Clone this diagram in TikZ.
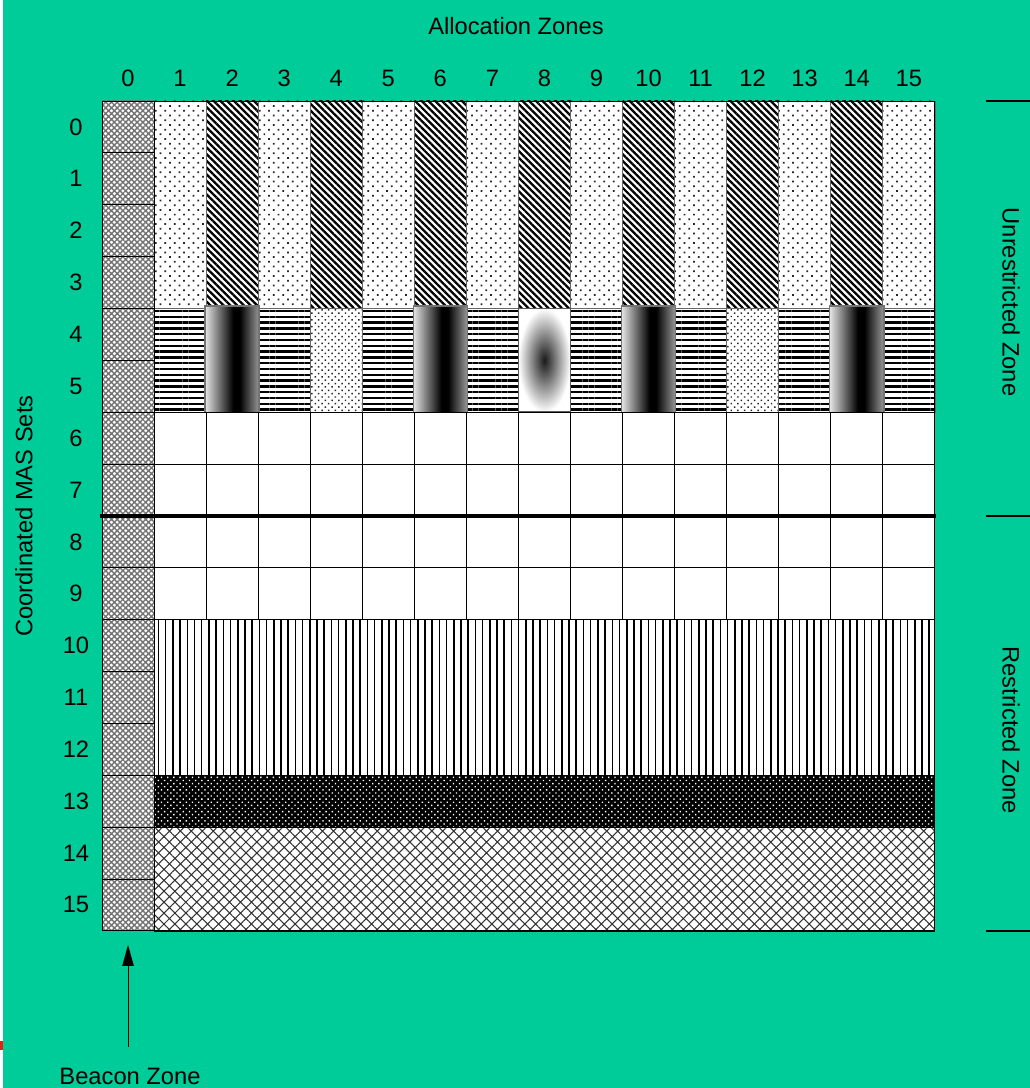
\documentclass[tikz,border=0pt]{standalone}
\usepackage{fontspec}
\setmainfont{Liberation Sans}
\usepackage{xcolor}
\usetikzlibrary{arrows.meta, patterns.meta}
\definecolor{zonegreen}{RGB}{0,204,153}
\definecolor{tickred}{RGB}{225,35,20}
\pgfdeclarehorizontalshading{barshade}{100bp}{color(0bp)=(black!10); color(25bp)=(black!10); color(51bp)=(black); color(57bp)=(black); color(75bp)=(black!40); color(100bp)=(black!40)}

\begin{document}
\begin{tikzpicture}[x=0.02cm,y=-0.02cm,>=Stealth,
    every node/.style={font=\fontsize{13.5}{16}\selectfont},
    cellbox/.style={draw=black,line width=0.4pt,fill=white},
    beaconfill/.style={draw=black,line width=0.5pt,preaction={fill=white},
      pattern={Hatch[angle=45,distance=2.3pt,line width=0.8pt]},pattern color=black!55},
    dotfill/.style={draw=black!60,line width=0.3pt,preaction={fill=white},
      pattern={Dots[radius=0.7pt,distance=3.8pt,angle=45]},pattern color=black!85},
    densedots/.style={draw=black!60,line width=0.3pt,preaction={fill=white},
      pattern={Dots[radius=0.6pt,distance=2.7pt,angle=45]},pattern color=black!85},
    slantfill/.style={draw=black!60,line width=0.3pt,preaction={fill=white},
      pattern={Lines[angle=-45,distance=2.7pt,line width=1.3pt]}},
    stripefill/.style={draw=black!60,line width=0.3pt,preaction={fill=white},
      pattern={Lines[angle=0,distance=3.3pt,line width=1.4pt]}},
    vertfill/.style={draw=black,line width=0.4pt,preaction={fill=white},
      pattern={Lines[angle=90,distance=4.1pt,line width=0.9pt]}},
    darkfill/.style={draw=black,line width=0.4pt,preaction={fill=black},
      pattern={Dots[radius=0.55pt,distance=2.5pt,angle=45]},pattern color=white},
    hatchfill/.style={draw=black,line width=0.4pt,preaction={fill=white},
      pattern={Hatch[angle=45,distance=4.4pt,line width=0.6pt]},pattern color=black!80},
    barfill/.style={shading=barshade,draw=black!55,line width=0.8pt},
    spotfill/.style={shading=radial,inner color=black!90,outer color=white,draw=black!65,line width=0.8pt}]
  \useasboundingbox (0,0) rectangle (1030,1088);
  \fill[white] (0,0) rectangle (3,1088);
  \fill[zonegreen] (3,0) rectangle (1030,1088);
  \fill[tickred] (0,1041) rectangle (3,1050);

  \begin{scope}[shift={(102,101)},x=1.0412cm,y=-1.0375cm]
    \foreach \c in {1,3,...,15}
      \draw[dotfill] (\c,0) rectangle (\c+1,4);
    \foreach \c in {2,4,...,14}
      \draw[slantfill] (\c,0) rectangle (\c+1,4);
    \foreach \c in {1,3,5,7,9,11,13,15}
      \draw[stripefill] (\c,4) rectangle (\c+1,6);
    \foreach \c in {4,12}
      \draw[densedots] (\c,4) rectangle (\c+1,6);
    \foreach \c in {2,6,10,14}
      \shade[barfill] (\c-0.02,3.95) rectangle (\c+1.02,6.02);
    \shade[spotfill] (8,4) rectangle (9,6);
    \foreach \c in {1,...,15}
      \foreach \r in {6,...,9}
        \draw[cellbox] (\c,\r) rectangle (\c+1,\r+1);
    \draw[vertfill] (1,10) rectangle (16,13);
    \draw[darkfill] (1,13) rectangle (16,14);
    \draw[hatchfill] (1,14) rectangle (16,16);
    \foreach \r in {0,...,15}
      \draw[beaconfill] (0,\r) rectangle (1,\r+1);
    \draw[line width=0.5pt] (0,0) rectangle (16,16);
    \draw[line width=2.3pt] (-0.04,8) -- (16.02,8);

    \foreach \c in {0,...,15}
      \node (colnum\c) at (\c+0.5,-0.44) {\c};
    \foreach \r in {0,...,15}
      \node (rownum\r) at (-0.5,\r+0.5) {\r};

    \coordinate (beacontip) at (0.5,16.27);
    \coordinate (beacontail) at (0.5,18.24);
    \draw[-{Triangle[length=12pt,width=6.5pt]},line width=0.5pt] (beacontail) -- (beacontip);
  \end{scope}

  \node (alloctitle) at (516,26) {Allocation Zones};
  \node[rotate=90] (mastitle) at (24,516) {Coordinated MAS Sets};
  \node[rotate=-90] (unrtitle) at (1011,302) {Unrestricted Zone};
  \node[rotate=-90] (restitle) at (1011,730) {Restricted Zone};
  \node (beacontitle) at (130,1076) {Beacon Zone};

  \foreach \y in {101,516,931}
    \draw[line width=0.6pt] (986,\y) -- (1030,\y);
\end{tikzpicture}
\end{document}
